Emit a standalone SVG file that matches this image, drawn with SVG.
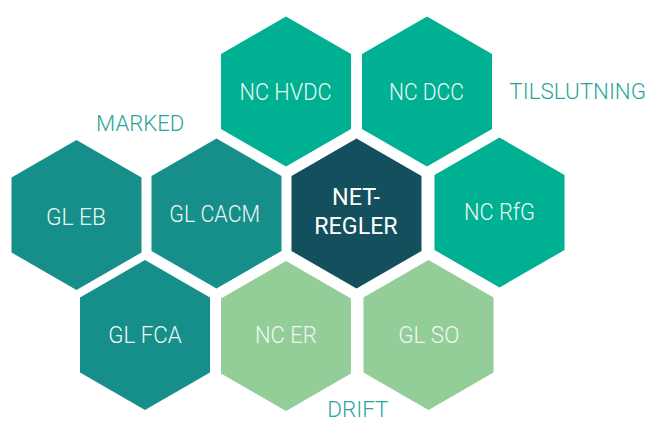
<svg xmlns="http://www.w3.org/2000/svg" width="649" height="422" viewBox="0 0 649 422">
  <defs>
    <polygon id="hex" points="0,-75 65,-37.5 65,37.5 0,75 -65,37.5 -65,-37.5"/>
    <style>
      .conn { fill: #00b092; }
      .mkt { fill: #168f8b; }
      .core { fill: #134f5c; }
      .ops { fill: #93cd98; }
      .lbl { font-family: Roboto, "Liberation Sans", sans-serif; font-size: 24px; font-weight: 300; fill: #eef7f3; text-anchor: middle; }
      .core-lbl { font-weight: 400; fill: #ffffff; }
      .grp { font-family: Roboto, "Liberation Sans", sans-serif; font-size: 22px; font-weight: 300; fill: #2aa69b; text-anchor: middle; }
    </style>
  </defs>

  <!-- Tilslutning (connection) codes -->
  <g id="nc-hvdc">
    <use href="#hex" class="conn" x="286" y="91.5"/>
    <text class="lbl" x="285.5" y="100" textLength="92" lengthAdjust="spacingAndGlyphs">NC HVDC</text>
  </g>
  <g id="nc-dcc">
    <use href="#hex" class="conn" x="427" y="91.5"/>
    <text class="lbl" x="426.5" y="100" textLength="75" lengthAdjust="spacingAndGlyphs">NC DCC</text>
  </g>
  <g id="nc-rfg">
    <use href="#hex" class="conn" x="499.5" y="212.5"/>
    <text class="lbl" x="499.5" y="219.5" textLength="71" lengthAdjust="spacingAndGlyphs">NC RfG</text>
  </g>

  <!-- Marked (market) guidelines -->
  <g id="gl-eb">
    <use href="#hex" class="mkt" x="76.5" y="215"/>
    <text class="lbl" x="76" y="225" textLength="60" lengthAdjust="spacingAndGlyphs">GL EB</text>
  </g>
  <g id="gl-cacm">
    <use href="#hex" class="mkt" x="216.5" y="213.5"/>
    <text class="lbl" x="214.7" y="221.7" textLength="90.7" lengthAdjust="spacingAndGlyphs">GL CACM</text>
  </g>
  <g id="gl-fca">
    <use href="#hex" class="mkt" x="145" y="335"/>
    <text class="lbl" x="145" y="342.7" textLength="73.3" lengthAdjust="spacingAndGlyphs">GL FCA</text>
  </g>

  <!-- Central node -->
  <g id="net-regler">
    <use href="#hex" class="core" x="356.5" y="213.5"/>
    <text class="lbl core-lbl" x="356" y="205" textLength="48" lengthAdjust="spacingAndGlyphs">NET-</text>
    <text class="lbl core-lbl" x="356" y="234.3" textLength="83.4" lengthAdjust="spacingAndGlyphs">REGLER</text>
  </g>

  <!-- Drift (operation) codes -->
  <g id="nc-er">
    <use href="#hex" class="ops" x="286" y="336"/>
    <text class="lbl" x="285.8" y="343" textLength="61.7" lengthAdjust="spacingAndGlyphs">NC ER</text>
  </g>
  <g id="gl-so">
    <use href="#hex" class="ops" x="428.5" y="335"/>
    <text class="lbl" x="428.8" y="342.7" textLength="61" lengthAdjust="spacingAndGlyphs">GL SO</text>
  </g>

  <!-- Group captions -->
  <g id="captions">
    <text class="grp" x="140.2" y="130.7" textLength="88.3" lengthAdjust="spacingAndGlyphs">MARKED</text>
    <text class="grp" x="577.7" y="98.7" textLength="136.7" lengthAdjust="spacingAndGlyphs">TILSLUTNING</text>
    <text class="grp" x="357.8" y="416.5" textLength="61" lengthAdjust="spacingAndGlyphs">DRIFT</text>
  </g>

  <g id="connectors"/>
</svg>
